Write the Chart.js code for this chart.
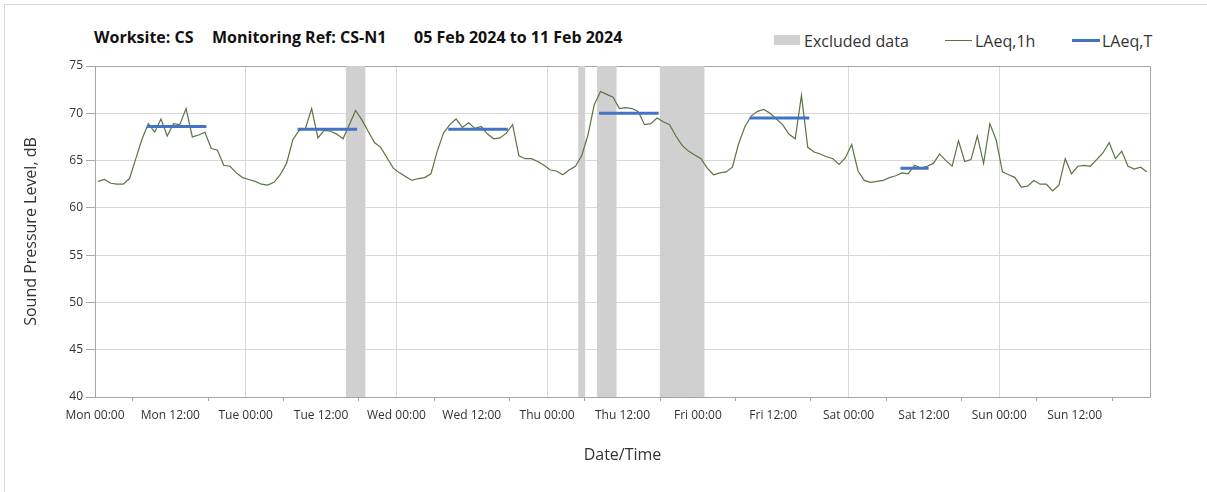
<!DOCTYPE html>
<html>
<head>
<meta charset="utf-8">
<script src="https://cdn.jsdelivr.net/npm/chart.js@4.4.1/dist/chart.umd.min.js"></script>
<style>
  body { margin: 0; background: #fff; font-family: "Open Sans", Lato, sans-serif; }
  #wrap { position: relative; width: 1207px; height: 492px; overflow: hidden; }
  #frame { position: absolute; left: 4px; top: 4px; width: 1300px; height: 600px; border: 1px solid #d9d9d9; }
  .ttl { position: absolute; top: 26px; line-height: 22px; font-size: 16px; font-weight: bold; color: #111; white-space: nowrap; }
  .lg { position: absolute; top: 30px; line-height: 22px; font-size: 16px; color: #333; white-space: nowrap; }
  .sw { position: absolute; }
  #chartBox { position: absolute; left: 0; top: 0; width: 1207px; height: 492px; }
</style>
</head>
<body>
<div id="wrap">
  <div id="frame"></div>
  <div class="ttl" style="left:94px">Worksite: CS</div>
  <div class="ttl" style="left:212px">Monitoring Ref: CS-N1</div>
  <div class="ttl" style="left:414px">05 Feb 2024 to 11 Feb 2024</div>

  <div class="sw" style="left:774px; top:35px; width:26px; height:10px; background:#d0d0d0"></div>
  <div class="lg" style="left:804px">Excluded data</div>
  <div class="sw" style="left:945px; top:40px; width:27px; height:1px; background:#5a7443"></div>
  <div class="lg" style="left:975px">LAeq,1h</div>
  <div class="sw" style="left:1072px; top:39px; width:28px; height:3px; background:#4472c4"></div>
  <div class="lg" style="left:1102px">LAeq,T</div>

  <div id="chartBox"><canvas id="noiseChart" width="1207" height="492"></canvas></div>
</div>
<script>
// hourly LAeq,1h, Mon 00:00 .. Sun 23:00
const laeqHourly = [
  // Mon
  62.8, 63.0, 62.6, 62.5, 62.5, 63.1, 65.2, 67.3, 68.9, 68.0, 69.4, 67.6,
  68.9, 68.8, 70.5, 67.5, 67.7, 68.0, 66.3, 66.1, 64.5, 64.4, 63.7, 63.2,
  // Tue
  63.0, 62.8, 62.5, 62.4, 62.7, 63.5, 64.7, 67.2, 68.2, 68.4, 70.5, 67.4,
  68.2, 68.1, 67.8, 67.3, 68.8, 70.3, 69.3, 68.1, 66.9, 66.4, 65.3, 64.2,
  // Wed
  63.7, 63.3, 62.9, 63.1, 63.2, 63.6, 66.0, 67.9, 68.8, 69.4, 68.5, 69.0,
  68.4, 68.6, 67.8, 67.3, 67.4, 67.9, 68.8, 65.5, 65.2, 65.2, 64.9, 64.5,
  // Thu
  64.0, 63.9, 63.5, 64.0, 64.4, 65.5, 67.7, 70.9, 72.3, 72.0, 71.7, 70.5,
  70.6, 70.5, 70.2, 68.8, 68.9, 69.5, 69.1, 68.8, 67.6, 66.6, 66.0, 65.6,
  // Fri
  65.2, 64.2, 63.5, 63.7, 63.8, 64.3, 66.8, 68.6, 69.7, 70.2, 70.4, 70.0,
  69.4, 68.8, 67.8, 67.3, 71.9, 66.4, 65.9, 65.7, 65.4, 65.2, 64.6, 65.3,
  // Sat
  66.7, 63.9, 62.9, 62.7, 62.8, 62.9, 63.2, 63.4, 63.7, 63.6, 64.5, 64.2,
  64.4, 64.7, 65.7, 65.0, 64.4, 67.1, 64.9, 65.1, 67.6, 64.7, 68.9, 67.2,
  // Sun
  63.8, 63.5, 63.2, 62.2, 62.3, 62.9, 62.5, 62.5, 61.8, 62.4, 65.2, 63.6,
  64.4, 64.5, 64.4, 65.1, 65.8, 66.9, 65.2, 66.0, 64.4, 64.1, 64.3, 63.8
];

// LAeq,T periods (first and last hour index) and levels
const periodStart = [8, 32, 56, 80, 104, 128];
const periodEnd   = [17, 41, 65, 89, 113, 132];
const periodLevel = [68.6, 68.3, 68.3, 70.0, 69.5, 64.2];

// excluded hours (hour index from Mon 00:00)
const excludedHours = [40, 41, 42, 77, 80, 81, 82, 90, 91, 92, 93, 94, 95, 96];

const xTickLabels = [
  'Mon 00:00', 'Mon 12:00', 'Tue 00:00', 'Tue 12:00', 'Wed 00:00', 'Wed 12:00',
  'Thu 00:00', 'Thu 12:00', 'Fri 00:00', 'Fri 12:00', 'Sat 00:00', 'Sat 12:00',
  'Sun 00:00', 'Sun 12:00'
];

const hourlyPoints = laeqHourly.map((v, i) => ({ x: i + 0.5, y: v }));

const periodPoints = [];
periodStart.forEach((s, k) => {
  periodPoints.push({ x: s + 0.5, y: periodLevel[k] });
  periodPoints.push({ x: periodEnd[k] + 0.5, y: periodLevel[k] });
  periodPoints.push({ x: periodEnd[k] + 1, y: null });
});

const excludedBars = excludedHours.map(h => ({ x: h + 0.5, y: [40, 75] }));

const FONT = '"Open Sans", Lato, sans-serif';
Chart.defaults.font.family = FONT;

const ctx = document.getElementById('noiseChart').getContext('2d');
new Chart(ctx, {
  type: 'line',
  data: {
    datasets: [
      {
        type: 'line',
        label: 'LAeq,T',
        data: periodPoints,
        borderColor: '#4472c4',
        borderWidth: 3,
        borderCapStyle: 'square',
        pointRadius: 0,
        spanGaps: false,
        order: 1
      },
      {
        type: 'line',
        label: 'LAeq,1h',
        data: hourlyPoints,
        borderColor: '#5a7443',
        borderWidth: 1.2,
        pointRadius: 0,
        tension: 0,
        order: 2
      },
      {
        type: 'bar',
        label: 'Excluded data',
        data: excludedBars,
        backgroundColor: '#d0d0d0',
        borderWidth: 0,
        barPercentage: 1,
        categoryPercentage: 1,
        order: 3
      }
    ]
  },
  options: {
    responsive: false,
    animation: false,
    layout: { padding: { left: 18, top: 66, right: 57, bottom: 20 } },
    plugins: {
      legend: { display: false },
      tooltip: { enabled: false }
    },
    scales: {
      x: {
        type: 'linear',
        min: 0,
        max: 168,
        offset: false,
        afterFit: s => { s.height = 75; },
        ticks: {
          stepSize: 12,
          autoSkip: false,
          maxRotation: 0,
          minRotation: 0,
          padding: 7,
          color: '#333',
          font: { size: 12 },
          callback: v => xTickLabels[v / 12] ?? ''
        },
        grid: {
          drawOnChartArea: false,
          tickColor: '#a6a6a6',
          tickLength: 4
        },
        border: { color: '#a6a6a6' },
        title: {
          display: true,
          text: 'Date/Time',
          color: '#333',
          font: { size: 16 },
          padding: { top: 0, bottom: 7 }
        }
      },
      // day gridlines only
      xDay: {
        type: 'linear',
        position: 'bottom',
        min: 0,
        max: 168,
        offset: false,
        afterFit: s => { s.height = 0; },
        ticks: { display: false, stepSize: 24 },
        grid: { color: '#d9d9d9', drawTicks: false },
        border: { display: false }
      },
      y: {
        min: 40,
        max: 75,
        afterFit: s => { s.width = 77; },
        ticks: {
          stepSize: 5,
          padding: 3,
          color: '#333',
          font: { size: 12 }
        },
        grid: {
          color: c => (c.tick && c.tick.value === 75) ? '#a6a6a6' : '#d9d9d9',
          tickColor: '#a6a6a6',
          tickLength: 9
        },
        border: { color: '#a6a6a6' },
        title: {
          display: true,
          text: 'Sound Pressure Level, dB',
          color: '#333',
          font: { size: 16 },
          padding: { top: 4, bottom: 0 }
        }
      },
      // right frame line of the plot area
      yRight: {
        position: 'right',
        min: 40,
        max: 75,
        afterFit: s => { s.width = 0; },
        ticks: { display: false },
        grid: { drawOnChartArea: false, drawTicks: false },
        border: { color: '#a6a6a6' }
      }
    }
  }
});
</script>
</body>
</html>
